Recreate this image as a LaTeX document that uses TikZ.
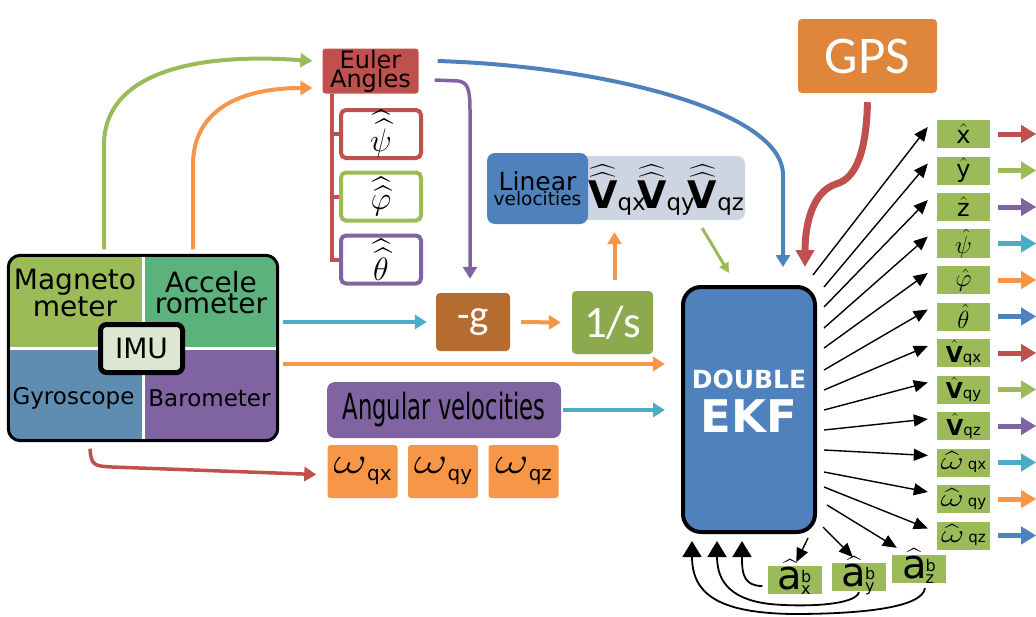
\RequirePackage{fix-cm}
\documentclass[tikz,border=0pt]{standalone}
\usepackage{amsmath}
\usepackage{fontspec}
\setmainfont{DejaVu Sans}
\newfontfamily\calib{Carlito}
\usepackage{graphicx}
\usetikzlibrary{arrows.meta}
\definecolor{redc}{HTML}{C0504D}
\definecolor{greenc}{HTML}{9BBB59}
\definecolor{purplec}{HTML}{8064A2}
\definecolor{cyanc}{HTML}{4BACC6}
\definecolor{orangec}{HTML}{F79646}
\definecolor{bluec}{HTML}{4F81BD}
\definecolor{accc}{HTML}{5CB27D}
\definecolor{gyrc}{HTML}{5E8DB1}
\definecolor{imulblc}{HTML}{DCE6D1}
\definecolor{gbrown}{HTML}{B46C31}
\definecolor{invgreen}{HTML}{8CA94D}
\definecolor{gpsor}{HTML}{E0863C}
\definecolor{linbgc}{HTML}{CDD5E3}
\tikzset{every picture/.append style={x=1pt,y=-1pt}}
\tikzset{flow/.style={line width=4pt, draw=#1, -{Triangle[length=12pt,width=14pt]}}}
\tikzset{flow/.default=cyanc}
\tikzset{outflow/.style={line width=5pt, draw=#1, -{Triangle[length=15pt,width=17pt]}}}
\tikzset{estarc/.style={line width=1.4pt, -{Triangle[length=14pt,width=12pt]}}}
\tikzset{fbarc/.style={line width=1.8pt, -{Triangle[length=16pt,width=19pt]}}}
\tikzset{bracket/.style={draw=redc, line width=4pt}}
\tikzset{anglebox/.style={draw=#1, line width=4pt, fill=white, rounded corners=5pt, minimum width=80pt, minimum height=48pt, inner sep=0pt, font=\fontsize{24.88}{25}\selectfont}}
\tikzset{outbox/.style={fill=greenc, minimum width=53pt, minimum height=28pt, inner sep=0pt, font=\fontsize{24}{24}\selectfont}}
\tikzset{omegabox/.style={fill=orangec, rounded corners=3pt, minimum width=70pt, minimum height=53pt, inner sep=0pt, font=\fontsize{24.88}{25}\selectfont}}
\tikzset{biasbox/.style={fill=greenc, minimum width=54pt, minimum height=28pt, inner sep=0pt, text height=20pt, text depth=2pt}}
\tikzset{opbox/.style={fill=#1, rounded corners=4pt, inner sep=0pt, text=white}}
\newcommand{\biaslbl}[1]{{\fontsize{40}{40}\selectfont$\widehat{\text{a}}$}\hspace{-1pt}\raisebox{-5pt}{\fontsize{16}{13}\selectfont\shortstack[l]{b\\#1}}}
\newcommand{\velhat}[1]{{\fontsize{22}{22}\selectfont$\hat{\textbf{V}}$}{\fontsize{15}{15}\selectfont#1}}
\newcommand{\omghat}[1]{{\fontsize{24.88}{25}\selectfont$\widehat{\scalebox{1.45}[1]{$\omega$}}$}\,{\fontsize{15}{15}\selectfont#1}}
\newcommand{\linvel}[1]{$\widehat{\widehat{\textbf{V}}}$\raisebox{-2pt}{\fontsize{23}{23}\selectfont#1}}
\newcommand{\angw}[1]{\scalebox{2.1}[1.5]{$\omega$}\raisebox{-7pt}{\fontsize{20}{20}\selectfont#1}}
\newcommand{\eulsym}[1]{\scalebox{1.3}{$\widehat{\widehat{#1}}$}}
\begin{document}
\begin{tikzpicture}
  \useasboundingbox (0,0) rectangle (1036,616);
  % IMU block
  \node (imu) at (143,348)[minimum width=269pt, minimum height=185pt]{};
  \begin{scope}
    \clip[rounded corners=12pt] (imu.north west) rectangle (imu.south east);
    \fill[greenc] (imu.north west) rectangle (imu.center);
    \fill[accc] (imu.north east) rectangle (imu.center);
    \fill[gyrc] (imu.south west) rectangle (imu.center);
    \fill[purplec] (imu.south east) rectangle (imu.center);
    \draw[white, line width=3pt] (imu.north) -- (imu.south);
    \draw[white, line width=3pt] (imu.west) -- (imu.east);
  \end{scope}
  \draw[line width=3pt, rounded corners=12pt] (imu.north west) rectangle (imu.south east);
  \node (mag) at (75,293)[align=center, font=\fontsize{28}{21}\selectfont]{Magneto\\meter};
  \node (acc) at (211,293)[align=center, font=\fontsize{28}{21}\selectfont]{Accele\\rometer};
  \node (gyr) at (73.5,404)[anchor=base, font=\fontsize{23}{23}\selectfont]{Gyroscope};
  \node (bar) at (209.5,406)[anchor=base, font=\fontsize{23}{23}\selectfont]{Barometer};
  \node (imulbl) at (141.5,348.5)[draw=black, line width=5pt, fill=imulblc, rounded corners=6pt, minimum width=82pt, minimum height=48pt, inner sep=0pt, font=\fontsize{28}{28}\selectfont]{IMU};

  % Euler angles
  \node (euler) at (370.5,71)[fill=redc, rounded corners=3pt, minimum width=96pt, minimum height=45pt, inner sep=0pt, align=center, font=\fontsize{24}{19}\selectfont]{Euler\\Angles};
  \node (psi) at (381,134)[anglebox=redc]{\eulsym{\psi}};
  \node (phi) at (381,196.5)[anglebox=greenc]{\eulsym{\varphi}};
  \node (theta) at (381,259.5)[anglebox=purplec]{\eulsym{\theta}};
  \coordinate (brk) at ([xshift=-38.5pt]euler.south);
  \draw[bracket] (brk) -- (brk |- theta.west) -- (theta.west);
  \draw[bracket] (brk |- psi.west) -- (psi.west);
  \draw[bracket] (brk |- phi.west) -- (phi.west);

  % processing chain
  \node (g) at (473,322)[opbox=gbrown, minimum width=74pt, minimum height=58pt, font=\calib\fontsize{41}{41}\selectfont]{-g};
  \node (inv) at (612.5,322.5)[opbox=invgreen, minimum width=81pt, minimum height=63pt, font=\calib\fontsize{45}{45}\selectfont]{1/s};
  \node (linbg) at (616,188)[fill=linbgc, rounded corners=8pt, minimum width=258pt, minimum height=64pt]{};
  \node (lin) at (537.5,188.5)[fill=bluec, rounded corners=8pt, minimum width=101pt, minimum height=71pt, inner sep=0pt, align=center]{{\fontsize{25}{22}\selectfont Linear}\\{\fontsize{18.5}{18}\selectfont velocities}};
  \node (vqx) at (617,208)[anchor=base, font=\fontsize{38}{38}\selectfont, inner sep=0pt]{\linvel{qx}};
  \node (vqy) at (666,208)[anchor=base, font=\fontsize{38}{38}\selectfont, inner sep=0pt]{\linvel{qy}};
  \node (vqz) at (716,208)[anchor=base, font=\fontsize{38}{38}\selectfont, inner sep=0pt]{\linvel{qz}};

  \node (angv) at (444,410)[fill=purplec, rounded corners=8pt, minimum width=234pt, minimum height=56pt, inner sep=0pt, font=\fontsize{36}{36}\selectfont]{\scalebox{0.63}[1]{Angular velocities}};
  \node (wqx) at (362.5,471.5)[omegabox]{\angw{qx}};
  \node (wqy) at (443,471.5)[omegabox]{\angw{qy}};
  \node (wqz) at (523.5,471.5)[omegabox]{\angw{qz}};

  % filter and GPS
  \node (gps) at (867.5,56)[opbox=gpsor, minimum width=139pt, minimum height=74pt, font=\calib\fontsize{53}{53}\selectfont]{GPS};
  \node (ekf) at (749,409.5)[draw=black, line width=4pt, fill=bluec, rounded corners=18pt, minimum width=132pt, minimum height=245pt]{};
  \node (ekflbl1) at (749,388)[anchor=base, text=white, font=\bfseries\fontsize{25}{25}\selectfont]{DOUBLE};
  \node (ekflbl2) at (749,432)[anchor=base, text=white, font=\bfseries\fontsize{45}{45}\selectfont]{EKF};

  % outputs
  \node (ox) at (963.5,134)[outbox]{$\hat{\text{x}}$};
  \node (oy) at (963.5,170.5)[outbox]{$\hat{\text{y}}$};
  \node (oz) at (963.5,207)[outbox]{$\hat{\text{z}}$};
  \node (opsi) at (963.5,243.5)[outbox, font=\fontsize{24.88}{25}\selectfont]{$\hat{\psi}$};
  \node (ophi) at (963.5,280)[outbox, font=\fontsize{24.88}{25}\selectfont]{$\hat{\varphi}$};
  \node (othe) at (963.5,316.5)[outbox, font=\fontsize{24.88}{25}\selectfont]{$\hat{\theta}$};
  \node (ovx) at (963.5,353)[outbox]{\velhat{qx}};
  \node (ovy) at (963.5,389.5)[outbox]{\velhat{qy}};
  \node (ovz) at (963.5,426)[outbox]{\velhat{qz}};
  \node (owx) at (963.5,462.5)[outbox]{\omghat{qx}};
  \node (owy) at (963.5,499)[outbox]{\omghat{qy}};
  \node (owz) at (963.5,535.5)[outbox]{\omghat{qz}};
  \node (ax) at (794.5,580)[biasbox]{\biaslbl{x}};
  \node (ay) at (858.5,577)[biasbox]{\biaslbl{y}};
  \node (az) at (919,569)[biasbox]{\biaslbl{z}};

  % sensor flows
  \draw[flow=greenc] ([xshift=-39pt,yshift=6pt]imu.north) -- (104,145) .. controls (104,75) and (190,52) .. ([xshift=-10pt,yshift=10pt]euler.west);
  \draw[flow=orangec] ([xshift=50pt,yshift=6pt]imu.north) -- (193,165) .. controls (193,110) and (240,88) .. ([xshift=-10pt,yshift=-17pt]euler.west);
  \draw[flow=bluec] ([xshift=19pt,yshift=10pt]euler.east) .. controls (600,66) and (783,110) .. (783,175) -- ([xshift=34pt,yshift=18pt]ekf.north);
  \draw[flow=purplec, line width=3.5pt] ([xshift=16pt,yshift=-9pt]euler.east) -- (458,81) .. controls (468,82) and (470,90) .. (470,110) -- ([xshift=-3pt,yshift=14pt]g.north);
  \draw[flow=cyanc, shorten <=5pt, shorten >=9pt] (imu.east |- g.west) -- (g.west);
  \draw[flow=orangec, shorten <=11pt, shorten >=11pt] (g.east) -- (inv.west);
  \coordinate (acclev) at (0,364);
  \draw[flow=orangec, shorten <=5pt, shorten >=16pt] (imu.east |- acclev) -- (ekf.west |- acclev);
  \draw[flow=cyanc, shorten <=2pt, shorten >=16pt] (angv.east) -- (ekf.west |- angv.east);
  \draw[flow=orangec, shorten <=11pt, shorten >=12pt] ([xshift=2pt]inv.north) -- ([xshift=2pt]inv.north |- linbg.south);
  \draw[greenc, line width=3pt, -{Triangle[length=10pt,width=10pt]}] ([xshift=-43pt,yshift=-8pt]linbg.south east) -- ([xshift=48pt,yshift=12pt]ekf.north west);
  \draw[flow=redc, line width=3.5pt] ([xshift=-53pt,yshift=-8pt]imu.south) .. controls (91,466) and (95,466) .. (112,467) -- ([xshift=-11pt,yshift=-3pt]wqx.west);
  \draw[redc, line width=7pt, -{Triangle[length=17pt,width=18pt]}] ([yshift=-9pt]gps.south) .. controls (866,165) and (850,180) .. (836,184) .. controls (812,192) and (805,225) .. ([xshift=56pt,yshift=18pt]ekf.north);

  % estimates
  \foreach \n/\sx/\sy in {ox/813/275, oy/824/287, oz/824/307, opsi/824/328, ophi/824/348, othe/824/370, ovx/824/390, ovy/824/410, ovz/824/430, owx/824/450, owy/824/472, owz/824/487}{
    \coordinate (\n-src) at (\sx,\sy);
    \draw[estarc] (\n-src) -- ([xshift=-9pt,yshift=7pt]\n.west);
  }
  \foreach \n/\c in {ox/redc, oy/greenc, oz/purplec, opsi/cyanc, ophi/orangec, othe/bluec, ovx/redc, ovy/greenc, ovz/purplec, owx/cyanc, owy/orangec, owz/bluec}
    \draw[outflow=\c] ([xshift=8pt]\n.east) -- ([xshift=46pt]\n.east);

  % bias estimates and feedback
  \coordinate (ax-src) at (808,538);
  \coordinate (ay-src) at (823,527);
  \coordinate (az-src) at (827,505);
  \draw[estarc, shorten >=4pt] (ax-src) -- (ax.north);
  \draw[estarc, shorten >=8pt] (ay-src) -- (ay.north);
  \draw[estarc] (az-src) -- ([xshift=5pt,yshift=7pt]az.north west);
  \draw[fbarc] ([xshift=-5pt,yshift=-6pt]ax.west) .. controls (745,586) and (742,575) .. (742,560) -- ([xshift=-7pt,yshift=-7pt]ekf.south);
  \draw[fbarc] ([xshift=0.5pt,yshift=-1pt]ay.south) .. controls (855,606) and (800,607) .. (770,604) .. controls (735,600) and (717,585) .. ([xshift=-32pt,yshift=-7pt]ekf.south);
  \draw[fbarc] ([xshift=6pt,yshift=-5pt]az.south) .. controls (922,608) and (860,614) .. (793,614) .. controls (720,613) and (692,595) .. ([xshift=-57pt,yshift=-7pt]ekf.south);
\end{tikzpicture}
\end{document}
